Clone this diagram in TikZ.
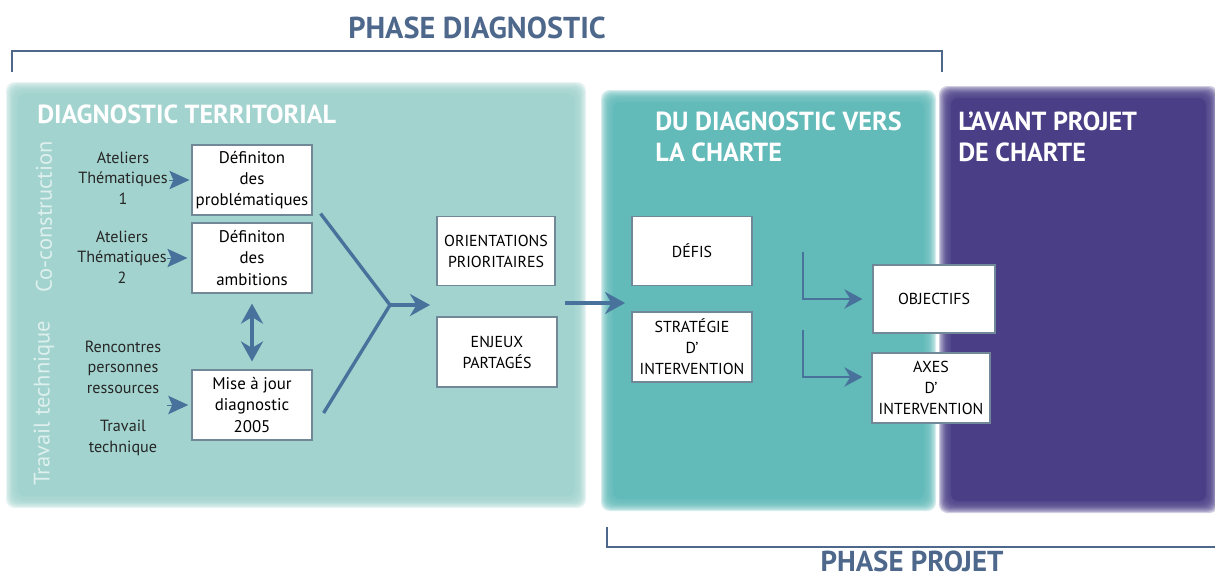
\documentclass[tikz,border=0pt]{standalone}
\usepackage{fontspec}
\setmainfont{PT Sans}
\usetikzlibrary{arrows.meta,positioning,calc}

\definecolor{tealclair}{RGB}{162,211,206}
\definecolor{tealfonce}{RGB}{98,186,185}
\definecolor{violetcharte}{RGB}{74,63,135}
\definecolor{ardoise}{RGB}{78,104,140}
\definecolor{flechebleu}{RGB}{72,114,156}
\definecolor{bordbleu}{RGB}{112,136,152}
\definecolor{pale}{RGB}{222,240,238}

\tikzset{
  boite/.style={draw=bordbleu, line width=0.8pt, fill=white, align=center,
    inner sep=2pt, minimum width=3cm, minimum height=1.75cm,
    font=\fontsize{12}{15}\selectfont},
  boitecap/.style={boite, font=\fontsize{11.3}{15}\selectfont},
  etiq/.style={align=center, text=black!85, font=\fontsize{11.5}{14.5}\selectfont},
  titre/.style={anchor=north west, align=left, inner sep=0pt, text=white,
    font=\bfseries\fontsize{18.6}{22}\selectfont},
  cote/.style={rotate=90, text=pale, font=\fontsize{16}{18}\selectfont},
  phase/.style={anchor=north, inner sep=0pt, text=ardoise,
    font=\bfseries\fontsize{21.5}{24}\selectfont},
  accolade/.style={draw=ardoise, line width=2pt},
  pointe/.style={draw=flechebleu, fill=flechebleu, line width=0.6pt,
    -{Stealth[length=0.5cm, width=0.46cm, inset=0.1cm]}},
  trait/.style={draw=flechebleu, line width=2.4pt},
  grosse/.style={draw=flechebleu, line width=2.4pt,
    -{Stealth[length=0.5cm, width=0.55cm]}},
  coude/.style={draw=flechebleu, line width=2pt,
    -{Stealth[length=0.45cm, width=0.48cm]}},
  double/.style={draw=flechebleu, line width=2.4pt,
    {Stealth[length=0.5cm, width=0.55cm]}-{Stealth[length=0.5cm, width=0.55cm]}}
}

% panneau aux bords flous : couleur, x1, y1, x2, y2
\newcommand{\panneau}[5]{%
  \foreach \i in {0,...,9}
    \fill[#1, opacity=0.26, rounded corners=6pt]
      (#2+\i*1.2-6, #3+\i*1.2-6) rectangle (#4-\i*1.2+6, #5-\i*1.2+6);
  \fill[#1, rounded corners=5pt] (#2+6, #3+6) rectangle (#4-6, #5-6);
}

\begin{document}
\begin{tikzpicture}[x=0.025cm, y=-0.025cm]
  \useasboundingbox (0,0) rectangle (1215,581);

  % 背景パネル(3枚)
  \panneau{tealclair}{12}{88}{580}{502}
  \panneau{tealfonce}{607}{96}{930}{505}
  \panneau{violetcharte}{945}{92}{1212}{507}

  % パネルの見出し
  \node[titre] (t1) at (37,105) {DIAGNOSTIC TERRITORIAL};
  \node[titre] (t2) at (655,112) {DU DIAGNOSTIC VERS\\LA CHARTE};
  \node[titre] (t3) at (958,112) {L’AVANT PROJET\\DE CHARTE};

  % フェーズの括弧と文字
  \node[phase] (pdiag) at (477,17) {PHASE DIAGNOSTIC};
  \draw[accolade] (12,72) -- (12,51) -- (942,51) -- (942,72);
  \node[phase, font=\bfseries\fontsize{20.5}{24}\selectfont] (pproj) at (912,551) {PHASE PROJET};
  \draw[accolade] (607,527) -- (607,547) -- (1215,547);

  % 左側の縦書き
  \node[cote] (cocons) at (44,217) {Co-construction};
  \node[cote] (travtech) at (44,403) {Travail technique};

  % 左の見出し語
  \node[etiq] (at1) at (123,178) {Ateliers\\Thématiques\\1};
  \node[etiq] (at2) at (122,257) {Ateliers\\Thématiques\\2};
  \node[etiq] (renc) at (123,367) {Rencontres\\personnes\\ressources};
  \node[etiq] (trav) at (123,438) {Travail\\technique};

  % 第一段の箱
  \node[boite] (b1) at (252,180) {Définiton\\des\\problématiques};
  \node[boite] (b2) at (252,258) {Définiton\\des\\ambitions};
  \node[boite] (b3) at (252,405) {Mise à jour\\diagnostic\\2005};

  % 入力の矢じり
  \draw[pointe] ([xshift=-0.55cm]b1.west) -- ([xshift=-0.05cm]b1.west);
  \draw[pointe] ([xshift=-0.6cm]b2.west) -- ([xshift=-0.1cm]b2.west);
  \draw[pointe] ([xshift=-0.6cm]b3.west) -- ([xshift=-0.08cm]b3.west);

  % 上下の両矢印
  \draw[double] ([yshift=-0.25cm]b2.south) -- ([yshift=0.2cm]b3.north);

  % 第二段の箱
  \node[boitecap, minimum width=2.95cm, minimum height=1.72cm] (orient) at (496,251) {ORIENTATIONS\\PRIORITAIRES};
  \node[boitecap] (enjeux) at (497,352) {ENJEUX\\PARTAGÉS};

  % 合流する線
  \coordinate (fourche) at (390,305);
  \coordinate (groupe) at (430,305);
  \draw[trait] ([shift={(8,-2)}]b1.south east) -- (fourche);
  \draw[trait] ([shift={(11,8)}]b3.east) -- (fourche);
  \draw[grosse] (fourche) -- (groupe);

  % 中央パネルの箱
  \node[boitecap, minimum height=1.72cm] (defis) at (692,251) {DÉFIS};
  \node[boitecap] (strat) at (692,347) {STRATÉGIE\\D’\\INTERVENTION};

  % パネル間の矢印
  \coordinate (sortie) at (565,303);
  \coordinate (entree) at (625,303);
  \draw[grosse, line width=2.2pt] (sortie) -- (entree);

  % 右側の箱
  \node[boitecap, minimum width=3.05cm, minimum height=1.7cm] (obj) at (934,299) {OBJECTIFS};
  \node[boitecap, minimum width=2.95cm] (axes) at (931,388) {AXES\\D’\\INTERVENTION};

  % 折れ曲がり矢印
  \coordinate (c1) at (803,252);
  \coordinate (c2) at (803,330);
  \draw[coude] (c1) |- ([xshift=-0.25cm]obj.west);
  \draw[coude] (c2) |- ([xshift=-0.225cm, yshift=0.275cm]axes.west);
\end{tikzpicture}
\end{document}
